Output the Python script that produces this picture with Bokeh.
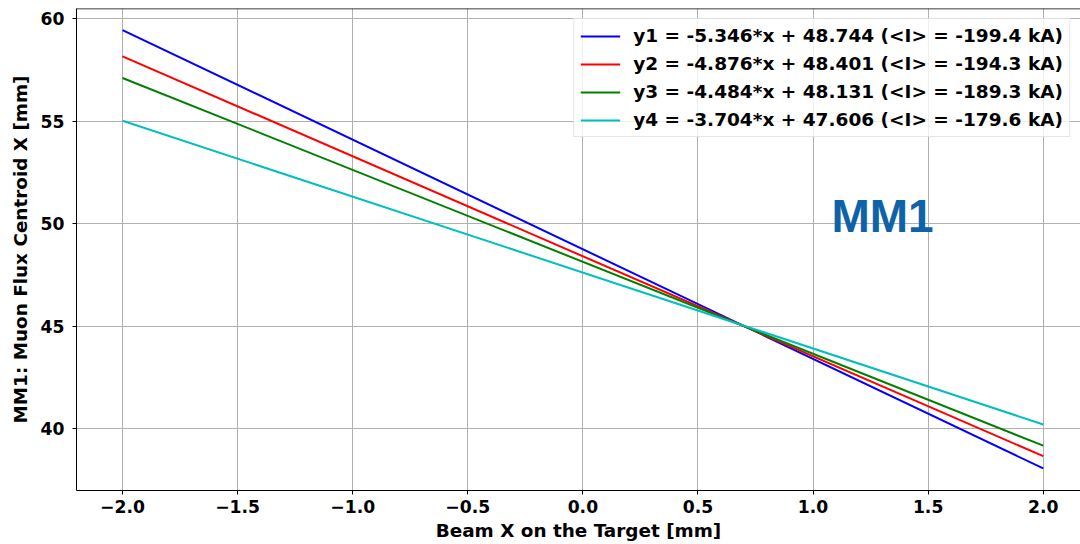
from bokeh.plotting import figure
from bokeh.models import Legend, LegendItem, FixedTicker, Range1d, ColumnDataSource, Span
from bokeh.core.properties import value
from bokeh.embed import file_html
from bokeh.resources import INLINE

# Data: fitted lines, end points read at x = -2 and x = 2
beam_x = [-2.0, 2.0]
y1 = [59.436, 38.052]
y2 = [58.153, 38.649]
y3 = [57.099, 39.163]
y4 = [55.014, 40.198]
labels = [
    "y1 = -5.346*x + 48.744 (<I> = -199.4 kA)",
    "y2 = -4.876*x + 48.401 (<I> = -194.3 kA)",
    "y3 = -4.484*x + 48.131 (<I> = -189.3 kA)",
    "y4 = -3.704*x + 47.606 (<I> = -179.6 kA)",
]
colors = ["#0000ff", "#ff0000", "#008000", "#00bfbf"]
x_ticks = [-2.0, -1.5, -1.0, -0.5, 0.0, 0.5, 1.0, 1.5, 2.0]
y_ticks = [40, 45, 50, 55, 60]
annot_text = ["MM1"]
annot_x = [1.08]
annot_y = [50.39]

FONT = "DejaVu Sans"
Y_END = 60.488

p = figure(width=1080, height=544, output_backend="svg", toolbar_location=None,
           x_range=Range1d(-2.2, 2.162), y_range=Range1d(36.976, Y_END),
           min_border_left=76, min_border_right=0, min_border_top=8, min_border_bottom=54)
p.background_fill_color = "white"
p.border_fill_color = "white"
p.outline_line_color = None

renderers = []
for ys, c in zip([y1, y2, y3, y4], colors):
    src = ColumnDataSource(dict(x=beam_x, y=ys))
    r = p.line("x", "y", source=src, line_color=c, line_width=2)
    renderers.append(r)

src_t = ColumnDataSource(dict(x=annot_x, y=annot_y, t=annot_text))
p.text("x", "y", text="t", source=src_t, text_font=value("Liberation Sans"),
       text_font_style="bold", text_font_size="46px", text_color="#0f62a8",
       text_baseline="alphabetic", text_align="left")

# top frame border (no right border in the reference)
p.add_layout(Span(location=Y_END, dimension="width", line_color="black", line_width=1.5))

# Axes
p.xaxis.ticker = FixedTicker(ticks=x_ticks)
p.yaxis.ticker = FixedTicker(ticks=y_ticks)
p.xaxis.major_label_overrides = {t: (f"{t:.1f}".replace("-", "\u2212")) for t in x_ticks}
p.yaxis.major_label_overrides = {t: str(t) for t in y_ticks}
p.xaxis.axis_label = "Beam X on the Target [mm]"
p.yaxis.axis_label = "MM1: Muon Flux Centroid X [mm]"
for ax in (p.xaxis, p.yaxis):
    ax.axis_label_text_font = FONT
    ax.axis_label_text_font_style = "bold"
    ax.axis_label_text_font_size = "18.4px"
    ax.axis_label_text_color = "black"
    ax.major_label_text_font = FONT
    ax.major_label_text_font_style = "bold"
    ax.major_label_text_font_size = "17.2px"
    ax.major_label_text_color = "black"
    ax.major_tick_in = 0
    ax.major_tick_out = 4
    ax.minor_tick_in = 0
    ax.minor_tick_out = 0
    ax.axis_line_color = "black"
    ax.major_tick_line_color = "black"
    ax.major_label_standoff = 5
p.yaxis.major_label_standoff = 8
p.yaxis.axis_label_standoff = 7
p.xaxis.axis_label_standoff = 4

p.xgrid.grid_line_color = "#b0b0b0"
p.ygrid.grid_line_color = "#b0b0b0"
p.xgrid.grid_line_width = 1
p.ygrid.grid_line_width = 1
p.xgrid.ticker = FixedTicker(ticks=x_ticks)
p.ygrid.ticker = FixedTicker(ticks=y_ticks)

legend = Legend(items=[LegendItem(label=l, renderers=[r]) for l, r in zip(labels, renderers)],
                location="top_right")
legend.label_text_font = FONT
legend.label_text_font_style = "bold"
legend.label_text_font_size = "18.5px"
legend.label_text_color = "black"
legend.glyph_width = 40
legend.glyph_height = 20
legend.label_height = 20
legend.label_standoff = 13
legend.spacing = 7
legend.padding = 6
legend.margin = 10
legend.border_line_color = "#cccccc"
legend.border_line_width = 1
legend.background_fill_alpha = 0.8
p.add_layout(legend)

open("out.html", "w").write(file_html(p, INLINE))
